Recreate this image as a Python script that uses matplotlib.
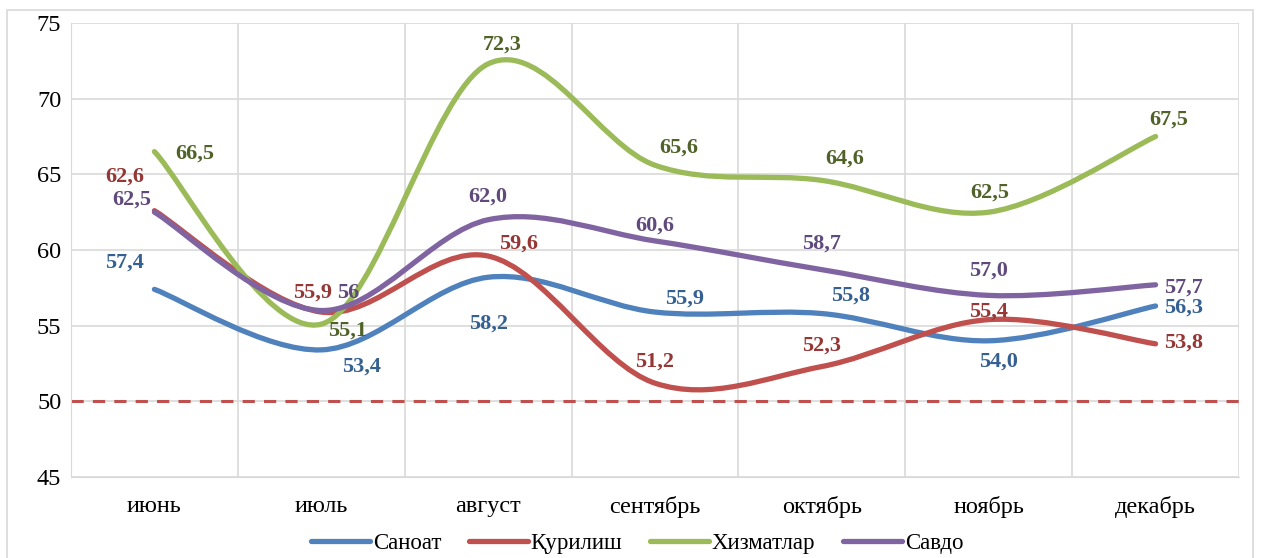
import numpy as np
import matplotlib.pyplot as plt
from matplotlib.path import Path
from matplotlib.patches import PathPatch, Rectangle
from matplotlib.lines import Line2D

plt.rcParams['font.family'] = ['Liberation Serif', 'DejaVu Serif']

months = ['июнь', 'июль', 'август', 'сентябрь', 'октябрь', 'ноябрь', 'декабрь']
series_names = ['Саноат', 'Қурилиш', 'Хизматлар', 'Савдо']

sanoat = [57.4, 53.4, 58.2, 55.9, 55.8, 54.0, 56.3]
qurilish = [62.6, 55.9, 59.6, 51.2, 52.3, 55.4, 53.8]
xizmatlar = [66.5, 55.1, 72.3, 65.6, 64.6, 62.5, 67.5]
savdo = [62.5, 56.0, 62.0, 60.6, 58.7, 57.0, 57.7]

sanoat_labels = ['57,4', '53,4', '58,2', '55,9', '55,8', '54,0', '56,3']
qurilish_labels = ['62,6', '55,9', '59,6', '51,2', '52,3', '55,4', '53,8']
xizmatlar_labels = ['66,5', '55,1', '72,3', '65,6', '64,6', '62,5', '67,5']
savdo_labels = ['62,5', '56', '62,0', '60,6', '58,7', '57,0', '57,7']

threshold = 50

line_colors = ['#4F81BD', '#C0504D', '#9BBB59', '#8064A2']
label_colors = ['#366092', '#953735', '#4F6228', '#604A7B']

# label offsets in pixels (dx, dy)
offsets = [
    [(-30, 27), (40, -17), (0, -46), (30, 13), (29, 18), (10, -21), (28, -2)],
    [(-30, 34), (-9, 19), (30, 12), (0, 22), (0, 21), (0, 8), (28, 1)],
    [(40, -2), (26, -6), (14, 19), (24, 18), (23, 22), (1, 20), (13, 17)],
    [(-23, 13), (27, 18), (0, 23), (0, 15), (0, 26), (0, 25), (28, -3)],
]


def smooth_path(x, y):
    # Excel style bezier smoothing
    pts = np.column_stack([x, y]).astype(float)
    n = len(pts)
    verts = [pts[0]]
    codes = [Path.MOVETO]
    for i in range(n - 1):
        p0 = pts[i - 1] if i > 0 else pts[i]
        p1 = pts[i]
        p2 = pts[i + 1]
        p3 = pts[i + 2] if i + 2 < n else pts[i + 1]
        c1 = p1 + (p2 - p0) / 6
        c2 = p2 - (p3 - p1) / 6
        verts += [c1, c2, p2]
        codes += [Path.CURVE4] * 3
    return Path(verts, codes)


fig = plt.figure(figsize=(12.61, 5.58), dpi=100)
fig.patches.append(Rectangle((7 / 1261, -0.01), 1246 / 1261, (548 / 558) + 0.01,
                             transform=fig.transFigure, fill=False,
                             edgecolor='#D9D9D9', linewidth=1.2))
ax = fig.add_axes([71 / 1261, 1 - 477 / 558, 1168 / 1261, 454 / 558])

x = np.arange(len(months))
all_series = [sanoat, qurilish, xizmatlar, savdo]
all_labels = [sanoat_labels, qurilish_labels, xizmatlar_labels, savdo_labels]

ax.axhline(threshold, color='#C0504D', linestyle=(0, (4, 3)), linewidth=2.2, zorder=2)

for vals, labs, lc, tc, offs in zip(all_series, all_labels, line_colors, label_colors, offsets):
    patch = PathPatch(smooth_path(x, vals), facecolor='none', edgecolor=lc,
                      linewidth=3.8, capstyle='round', zorder=3)
    ax.add_patch(patch)
    for xi, v, s, (dx, dy) in zip(x, vals, labs, offs):
        ax.annotate(s, (xi, v), xytext=(dx, dy), textcoords='offset pixels',
                    ha='center', va='center', fontsize=16, fontweight='bold',
                    color=tc, zorder=4)

ax.set_xlim(-0.5, len(months) - 0.5)
ax.set_ylim(45, 75)
ax.set_yticks(np.arange(45, 76, 5))
ax.set_xticks(x)
ax.set_xticklabels(months)
ax.set_xticks(np.arange(-0.5, len(months), 1), minor=True)
ax.grid(True, which='minor', axis='x', color='#D9D9D9', linewidth=1.2)
ax.grid(True, which='major', axis='y', color='#D9D9D9', linewidth=1.2)
ax.set_axisbelow(True)
ax.tick_params(axis='both', which='both', length=0, labelsize=17.5, colors='black')
ax.tick_params(axis='x', pad=14)
ax.tick_params(axis='y', pad=7)
for sp in ax.spines.values():
    sp.set_visible(False)
ax.spines['left'].set_visible(True)
ax.spines['left'].set_color('#D9D9D9')
ax.spines['bottom'].set_visible(True)
ax.spines['bottom'].set_color('#D9D9D9')

handles = [Line2D([0], [0], color=c, linewidth=3.8, solid_capstyle='round') for c in line_colors]
fig.legend(handles, series_names, loc='center', bbox_to_anchor=(637 / 1261, 1 - 543 / 558),
           ncol=4, frameon=False, fontsize=16.5, handlelength=2.6, handletextpad=0.1,
           columnspacing=1.2)

fig.savefig('out.png', dpi=100)
